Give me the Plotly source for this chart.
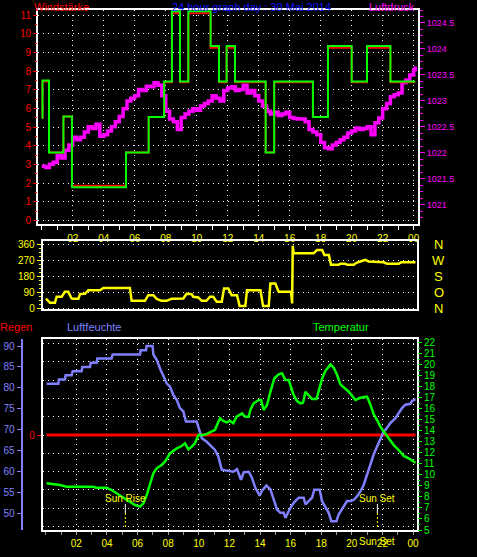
import plotly.graph_objects as go

W, H = 477, 557
FONT = "Liberation Sans"

# ---------------- data ----------------
hour_ticks = [2, 4, 6, 8, 10, 12, 14, 16, 18, 20, 22, 24]
hour_labels = ["02", "04", "06", "08", "10", "12", "14", "16", "18", "20", "22", "00"]

# wind speed (Windstärke) step changes
wind_t = [0, 0.05, 0.47, 1.4, 1.95, 5.44, 6.9, 7.9, 8.4, 8.92, 9.46, 10.9, 11.44, 11.93,
          12.47, 14.45, 15.0, 17.5, 18.47, 20.0, 20.99, 22.5, 24.1]
wind_gust = [5.5, 7.5, 3.65, 5.57, 1.78, 3.65, 5.55, 7.45, 11.2, 7.45, 11.2, 9.35, 7.45, 9.35,
             7.45, 3.65, 7.45, 5.55, 9.35, 7.45, 9.35, 7.45, 7.45]
wind_avg = [5.5, 7.45, 3.65, 5.57, 1.86, 3.65, 5.55, 7.4, 11.1, 7.4, 11.1, 9.25, 7.4, 9.25,
            7.4, 3.65, 7.4, 5.55, 9.25, 7.4, 9.25, 7.4, 7.4]

# air pressure (Luftdruck)
press_t = [0.0, 0.25, 0.5, 0.75, 1.0, 1.25, 1.5, 1.75, 2.0, 2.25, 2.5, 2.75, 3.0, 3.25, 3.5, 3.75,
           4.0, 4.25, 4.5, 4.75, 5.0, 5.25, 5.5, 5.75, 6.0, 6.25, 6.5, 6.75, 7.0, 7.25, 7.5, 7.75,
           8.0, 8.25, 8.5, 8.75, 9.0, 9.25, 9.5, 9.75, 10.0, 10.25, 10.5, 10.75, 11.0, 11.25, 11.5,
           11.75, 12.0, 12.25, 12.5, 12.75, 13.0, 13.25, 13.5, 13.75, 14.0, 14.25, 14.5, 14.75,
           15.0, 15.25, 15.5, 15.75, 16.0, 16.25, 16.5, 16.75, 17.0, 17.25, 17.5, 17.75, 18.0,
           18.25, 18.5, 18.75, 19.0, 19.25, 19.5, 19.75, 20.0, 20.25, 20.5, 20.75, 21.0, 21.25,
           21.5, 21.75, 22.0, 22.25, 22.5, 22.75, 23.0, 23.25, 23.5, 23.75, 24.0, 24.1]
press = [1021.74, 1021.72, 1021.78, 1021.82, 1021.95, 1021.9, 1022.05, 1022.15, 1022.3, 1022.25,
         1022.3, 1022.4, 1022.5, 1022.47, 1022.55, 1022.32, 1022.35, 1022.42, 1022.5, 1022.6,
         1022.7, 1022.85, 1023.0, 1023.05, 1023.1, 1023.22, 1023.2, 1023.28, 1023.27, 1023.35,
         1023.3, 1023.1, 1022.8, 1022.65, 1022.6, 1022.45, 1022.68, 1022.75, 1022.8, 1022.85,
         1022.82, 1022.9, 1022.95, 1023.0, 1023.1, 1023.05, 1023.0, 1023.2, 1023.25, 1023.27,
         1023.2, 1023.22, 1023.3, 1023.15, 1023.2, 1023.1, 1023.0, 1022.9, 1022.8, 1022.75,
         1022.78, 1022.72, 1022.75, 1022.78, 1022.68, 1022.66, 1022.65, 1022.65, 1022.6, 1022.45,
         1022.4, 1022.35, 1022.2, 1022.1, 1022.08, 1022.15, 1022.2, 1022.25, 1022.3, 1022.38,
         1022.42, 1022.48, 1022.45, 1022.47, 1022.5, 1022.35, 1022.58, 1022.67, 1022.85, 1022.95,
         1023.08, 1023.12, 1023.15, 1023.35, 1023.4, 1023.5, 1023.6, 1023.66]
press_ticks = [1021, 1021.5, 1022, 1022.5, 1023, 1023.5, 1024, 1024.5]
press_labels = ["1021", "1021.5", "1022", "1022.5", "1023", "1023.5", "1024", "1024.5"]

# wind direction (degrees)
dir_t = [0.01, 0.27, 0.6, 0.71, 1.04, 1.25, 1.47, 1.69, 1.8, 2.13, 2.24, 2.56, 2.78, 3.54, 3.76,
         5.5, 5.61, 6.48, 6.7, 7.03, 7.25, 7.57, 7.9, 8.22, 8.99, 9.2, 9.53, 9.64, 9.97, 10.19,
         10.5, 10.73, 10.95, 11.17, 11.5, 11.65, 11.93, 12.15, 12.5, 12.67, 13.04, 13.15, 14.03,
         14.2, 14.57, 14.68, 15.0, 15.22, 16.03, 16.1, 16.14, 16.2, 17.5, 17.73, 18.06, 18.2,
         18.5, 18.64, 19.14, 19.25, 19.58, 19.69, 20.13, 20.3, 20.6, 20.89, 21.1, 22.09, 22.3,
         23.07, 23.22, 24.16]
dir_deg = [54, 30, 30, 64, 64, 92, 92, 54, 52, 52, 79, 81, 101, 101, 114, 114, 41, 41, 73, 73,
           52, 41, 41, 52, 54, 81, 79, 64, 60, 41, 41, 64, 64, 35, 35, 111, 111, 73, 73, 11, 11,
           101, 101, 11, 11, 139, 139, 92, 92, 26, 354, 311, 311, 330, 330, 302, 302, 246, 246,
           251, 251, 246, 246, 257, 266, 274, 264, 260, 251, 251, 260, 260]
dir_ticks = [0, 90, 180, 270, 360]
compass = ["N", "O", "S", "W", "N"]

# humidity (Luftfeuchte, %)
hum_t = [0.06, 0.82, 0.86, 1.25, 1.3, 1.69, 1.76, 2.34, 2.39, 2.89, 2.93, 3.32, 3.37, 4.3, 4.37,
         6.16, 6.2, 6.55, 6.59, 6.98, 7.03, 7.25, 7.46, 7.68, 7.9, 8.12, 8.34, 8.56, 8.77, 8.99,
         9.16, 9.86, 10.04, 10.2, 10.5, 10.73, 11.06, 11.28, 11.5, 12.25, 12.5, 12.76, 12.94,
         13.26, 13.48, 13.7, 13.98, 14.13, 14.42, 14.68, 14.9, 15.11, 15.33, 15.55, 15.66, 15.81,
         15.99, 16.2, 16.53, 16.86, 16.97, 17.18, 17.4, 17.55, 17.9, 18.06, 18.27, 18.49, 18.66,
         18.99, 19.14, 19.47, 19.69, 19.95, 20.13, 20.34, 20.56, 20.78, 20.99, 21.21, 21.43,
         21.65, 21.87, 22.09, 22.2, 22.52, 22.85, 23.07, 23.28, 23.5, 23.83, 23.94, 24.16]
hum = [81, 81, 82, 82, 83, 83, 84, 84, 85, 85, 86, 86, 87, 87, 88, 88, 89, 89, 90, 90, 88, 86.7,
       84.7, 83.1, 81.1, 80.3, 78.3, 77.1, 75.2, 74.4, 72, 72, 69.6, 68, 67.2, 66.4, 65.2, 63.6,
       60.5, 60, 60.6, 58.1, 59.9, 60, 58.5, 56.1, 54.3, 55.5, 56.7, 55.8, 53.3, 51, 50.2, 50.2,
       49, 50.2, 51.4, 52.6, 53.8, 53.8, 52.2, 53, 53.8, 55.7, 55.7, 52.9, 51.4, 50.2, 48.2,
       48.2, 49.8, 51.8, 53, 53, 53.3, 54.1, 55.3, 56.9, 59.3, 61.3, 64.1, 66, 68, 69.6, 70,
       71.6, 72.8, 74, 75.2, 76, 76.2, 76.9, 77.3]
hum_ticks = [50, 55, 60, 65, 70, 75, 80, 85, 90]

# temperature (°C)
temp_t = [0.06, 0.93, 1.36, 3.1, 3.32, 3.98, 4.3, 4.63, 4.96, 5.28, 5.61, 5.83, 6.16, 6.38, 6.6,
          6.81, 7.03, 7.25, 7.57, 7.79, 8.12, 8.56, 8.88, 9.1, 9.32, 9.54, 9.75, 9.97, 10.3, 10.5,
          10.84, 11.06, 11.28, 11.39, 11.6, 11.82, 12.04, 12.26, 12.47, 12.69, 12.83, 13.04,
          13.26, 13.37, 13.59, 13.92, 14.07, 14.24, 14.46, 14.68, 14.94, 15.22, 15.44, 15.66,
          15.88, 16.2, 16.42, 16.64, 16.81, 16.97, 17.12, 17.4, 17.69, 17.84, 18.06, 18.27, 18.6,
          18.82, 19.04, 19.25, 19.52, 19.8, 20.02, 20.23, 20.56, 21.0, 21.21, 21.43, 21.65,
          21.87, 22.09, 22.41, 22.74, 23.07, 23.39, 23.72, 24.16]
temp = [9.24, 9.08, 8.93, 8.93, 8.84, 8.84, 8.63, 8.33, 8.02, 7.72, 7.42, 7.27, 7.12, 7.42, 8.18,
        9.24, 10.15, 10.6, 10.9, 11.2, 11.96, 12.41, 12.62, 12.87, 12.32, 12.57, 12.87, 13.62,
        13.62, 13.7, 13.9, 14.1, 14.83, 15.14, 14.9, 14.77, 14.9, 14.7, 15.28, 15.5, 15.59,
        15.28, 15.28, 15.89, 16.5, 16.8, 16.8, 15.89, 16.34, 17.55, 18.77, 19.13, 19.22, 18.61,
        18.61, 17.25, 16.7, 16.5, 16.55, 17.55, 17.32, 16.89, 16.89, 17.7, 18.77, 19.43, 20.03,
        19.73, 19.07, 18.22, 17.91, 17.55, 17.19, 16.8, 17.0, 17.1, 16.4, 15.5, 14.98, 14.37,
        13.95, 13.32, 12.71, 12.26, 11.72, 11.5, 11.11]

# rain (Regen)
rain_t = [0.06, 24.16]
rain = [0, 0]

# sun events
sun_names = ["Sun Rise", "Sun Set"]
sun_times = [5.2, 21.67]


# ---------------- helpers ----------------
def px(x):
    return x / W


def py(y):
    return 1 - y / H


DOT = "1px,4px"
WHITE = "#ffffff"
YELLOW = "#ffff00"
RED = "#ff0000"
GREEN = "#00ff00"
MAGENTA = "#ff00ff"
BLUE = "#8080ff"

fig = go.Figure()

# top panel: pressure on base axis, wind speed on overlay (drawn above)
fig.add_trace(go.Scatter(x=press_t, y=press, mode="lines", line=dict(color=MAGENTA, width=3.5, shape="hv"),
                         xaxis="x", yaxis="y"))
fig.add_trace(go.Scatter(x=wind_t, y=wind_avg, mode="lines", line=dict(color=RED, width=2, shape="hv"),
                         xaxis="x", yaxis="y2"))
fig.add_trace(go.Scatter(x=wind_t, y=wind_gust, mode="lines", line=dict(color=GREEN, width=2, shape="hv"),
                         xaxis="x", yaxis="y2"))

# middle panel: wind direction
fig.add_trace(go.Scatter(x=dir_t, y=dir_deg, mode="lines", line=dict(color=YELLOW, width=2.5),
                         xaxis="x2", yaxis="y3"))

# bottom panel
fig.add_trace(go.Scatter(x=rain_t, y=rain, mode="lines", line=dict(color=RED, width=3),
                         xaxis="x3", yaxis="y4"))
fig.add_trace(go.Scatter(x=hum_t, y=hum, mode="lines", line=dict(color=BLUE, width=2.5),
                         xaxis="x3", yaxis="y5"))
fig.add_trace(go.Scatter(x=temp_t, y=temp, mode="lines", line=dict(color=GREEN, width=2.5),
                         xaxis="x3", yaxis="y6"))

box = dict(showline=True, linecolor=WHITE, linewidth=2, mirror=True, zeroline=False)

top_x = [px(38), px(418)]
low_x = [px(42.7), px(417)]

fig.update_layout(
    width=W, height=H,
    margin=dict(l=0, r=0, t=0, b=0, autoexpand=False),
    paper_bgcolor="black", plot_bgcolor="black",
    showlegend=False,
    font=dict(family=FONT, size=10, color=WHITE),
    xaxis=dict(domain=top_x, anchor="y", range=[-0.24, 24.28],
               tickmode="array", tickvals=hour_ticks, ticktext=hour_labels,
               tickfont=dict(color=YELLOW, size=10), ticks="outside", ticklen=4, tickcolor=WHITE,
               minor=dict(dtick=1, tick0=0, ticks="outside", ticklen=4, tickcolor=WHITE, showgrid=False),
               showgrid=True, gridcolor=WHITE, griddash=DOT, gridwidth=1, automargin=False, **box),
    yaxis=dict(domain=[py(224), py(10)], anchor="x", side="right", range=[1020.63, 1024.75],
               tickmode="array", tickvals=press_ticks, ticktext=press_labels,
               tickfont=dict(color=MAGENTA, size=9), ticks="outside", ticklen=5, tickcolor=MAGENTA,
               minor=dict(dtick=0.125, tick0=1021, ticks="outside", ticklen=3, tickcolor=MAGENTA, showgrid=False),
               showgrid=False, automargin=False, **box),
    yaxis2=dict(overlaying="y", anchor="x", side="left", range=[-0.18, 11.27], dtick=1, tick0=0,
                tickfont=dict(color=RED, size=10), ticks="outside", ticklen=4, tickcolor=RED,
                minor=dict(dtick=0.5, tick0=0, ticks="outside", ticklen=2, tickcolor=RED, showgrid=False),
                showgrid=True, gridcolor=WHITE, griddash=DOT, gridwidth=1, automargin=False,
                showline=False, zeroline=False),
    xaxis2=dict(domain=low_x, anchor="y3", range=[-0.2, 24.26], showticklabels=False, ticks="",
                showgrid=False, automargin=False, **box),
    yaxis3=dict(domain=[py(309.3), py(241.3)], anchor="x2", range=[-7.4, 379.3],
                tickmode="array", tickvals=dir_ticks,
                tickfont=dict(color=YELLOW, size=10), ticks="outside", ticklen=4, tickcolor=YELLOW,
                minor=dict(dtick=22.5, tick0=0, ticks="outside", ticklen=2, tickcolor=YELLOW, showgrid=False),
                showgrid=True, gridcolor=WHITE, griddash=DOT, gridwidth=1, automargin=False, **box),
    xaxis3=dict(domain=low_x, anchor="y4", range=[-0.2, 24.26],
                tickmode="array", tickvals=hour_ticks, ticktext=hour_labels,
                tickfont=dict(color=YELLOW, size=10), ticks="outside", ticklen=3, tickcolor="#999999",
                minor=dict(dtick=1, tick0=0, ticks="outside", ticklen=3, tickcolor="#999999", showgrid=False),
                showgrid=True, gridcolor=WHITE, griddash=DOT, gridwidth=1, automargin=False, **box),
    yaxis4=dict(domain=[py(530), py(339.3)], anchor="x3", range=[-5.19, 5.23],
                tickmode="array", tickvals=[0], ticktext=["0"],
                tickfont=dict(color=RED, size=10), ticks="outside", ticklen=4, tickcolor=RED,
                minor=dict(dtick=1, tick0=0, ticks="", showgrid=True, gridcolor=WHITE, griddash=DOT, gridwidth=1),
                showgrid=False, automargin=False, **box),
    yaxis5=dict(overlaying="y4", anchor="free", position=px(21.7), side="left", range=[46.1, 91.6],
                tickmode="array", tickvals=hum_ticks,
                tickfont=dict(color=BLUE, size=10), ticks="outside", ticklen=4, tickcolor=BLUE,
                showline=True, linecolor=BLUE, linewidth=2, showgrid=False, zeroline=False, automargin=False),
    yaxis6=dict(overlaying="y4", anchor="x3", side="right", range=[5, 22.31], dtick=1, tick0=5,
                tickfont=dict(color=GREEN, size=10), ticks="outside", ticklen=4, tickcolor=GREEN,
                minor=dict(dtick=0.5, tick0=5, ticks="outside", ticklen=2, tickcolor=GREEN, showgrid=False),
                showgrid=False, showline=False, zeroline=False, automargin=False),
)

ann = []


def label(text, x, y, color, size=11, xanchor="left", yanchor="middle"):
    ann.append(dict(text=text, x=px(x), y=py(y), xref="paper", yref="paper", showarrow=False,
                    xanchor=xanchor, yanchor=yanchor, borderpad=0,
                    font=dict(family=FONT, size=size, color=color)))


label("Windstärke", 33, 0, RED, 11, yanchor="top")
label("24 hour graph day : 30 Mai 2014", 171, 0, "#1414ff", 11, yanchor="top")
label("Luftdruck", 416, 0, MAGENTA, 11, xanchor="right", yanchor="top")
label("Regen", -1, 327, RED, 11)
label("Luftfeuchte", 66, 327, BLUE, 11)
label("Temperatur", 312, 327, GREEN, 11)

# compass labels on right of middle panel
for d, c in zip(dir_ticks, compass):
    ann.append(dict(text=c, x=px(438.7), y=d, xref="paper", yref="y3", showarrow=False,
                    xanchor="center", yanchor="middle", font=dict(family=FONT, size=13, color=YELLOW)))

shapes = []
for name, t in zip(sun_names, sun_times):
    ann.append(dict(text=name, x=t, y=py(498), xref="x3", yref="paper", showarrow=False,
                    xanchor="center", yanchor="middle", font=dict(family=FONT, size=10, color=YELLOW)))
    shapes.append(dict(type="line", xref="x3", yref="paper", x0=t, x1=t, y0=py(504), y1=py(513),
                       line=dict(color=WHITE, width=1)))
    shapes.append(dict(type="line", xref="x3", yref="paper", x0=t, x1=t, y0=py(513), y1=py(529),
                       line=dict(color=YELLOW, width=1, dash="2px,2px")))
# sunset text also drawn in the tick-label row, as in the source
ann.append(dict(text=sun_names[1], x=sun_times[1], y=py(541), xref="x3", yref="paper", showarrow=False,
                xanchor="center", yanchor="middle", font=dict(family=FONT, size=10, color=YELLOW)))

fig.update_layout(annotations=ann, shapes=shapes)

fig.write_html(
    "out.html",
    config={"displayModeBar": False},
    post_script="document.body.style.margin='0px';document.body.style.padding='0px';"
                "document.body.style.overflow='hidden';document.body.style.background='black';",
)
